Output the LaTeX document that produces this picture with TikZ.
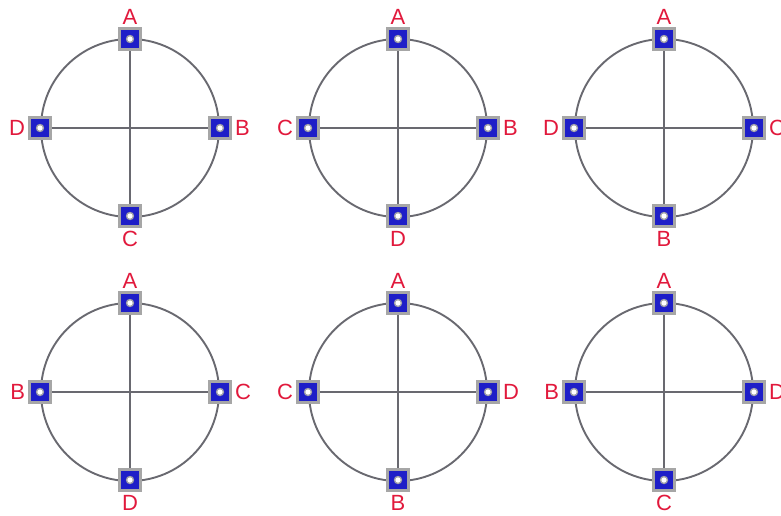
\documentclass[tikz,border=0pt]{standalone}
\usepackage{fontspec}
\setmainfont{Liberation Sans}
\usetikzlibrary{positioning}
\definecolor{pinred}{RGB}{225,25,60}
\definecolor{padblue}{RGB}{30,30,200}
\definecolor{wiregray}{RGB}{105,105,112}

\tikzset{
	pad/.style={draw=gray!70, line width=2.6pt, fill=padblue, minimum size=21pt, inner sep=0pt,
		path picture={
			\fill[wiregray!60] (path picture bounding box.center) circle (4.2pt);
			\fill[white] (path picture bounding box.center) circle (2.6pt);}},
	lbl/.style={text=pinred, font=\fontsize{22}{22}\selectfont, inner sep=1pt},
	wire/.style={draw=wiregray, line width=1.9pt}
}

% one board: name, centre x, centre y, top, right, bottom, left
\newcommand{\board}[7]{%
	\draw[wire] (#2,#3) circle (89);
	\node[pad] (#1t) at (#2,#3-89) {};
	\node[pad] (#1r) at (#2+90,#3) {};
	\node[pad] (#1b) at (#2,#3+88) {};
	\node[pad] (#1l) at (#2-90,#3) {};
	\draw[wire] (#1t) -- (#1b);
	\draw[wire] (#1l) -- (#1r);
	\node[lbl, above=2pt of #1t] {#4};
	\node[lbl, right=2pt of #1r] {#5};
	\node[lbl, below=2pt of #1b] {#6};
	\node[lbl, left=2pt of #1l] {#7};
}

\begin{document}
\begin{tikzpicture}[x=1pt, y=-1pt]
	\useasboundingbox (0,0) rectangle (781,515);
	
	% top row
	\board{p}{130}{128}{A}{B}{C}{D}
	\board{q}{398}{128}{A}{B}{D}{C}
	\board{s}{664}{128}{A}{C}{B}{D}
	
	% bottom row
	\board{u}{130}{392}{A}{C}{D}{B}
	\board{v}{398}{392}{A}{D}{B}{C}
	\board{w}{664}{392}{A}{D}{C}{B}
\end{tikzpicture}
\end{document}
